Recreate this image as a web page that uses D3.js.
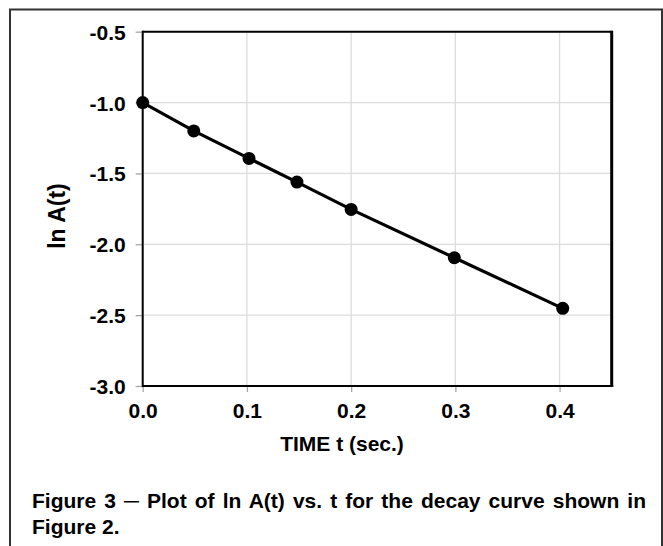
<!DOCTYPE html>
<html><head><meta charset="utf-8">
<script src="https://cdn.jsdelivr.net/npm/d3@7"></script>
<style>
html,body{margin:0;padding:0;background:#fff;}
text{font-family:"Liberation Sans",Arial,sans-serif;font-weight:bold;fill:#000;}
</style></head>
<body>
<svg id="c" width="663" height="546"></svg>
<script>
const times = [0.0, 0.049, 0.102, 0.148, 0.200, 0.299, 0.403];
const lnA = [-1.0, -1.20, -1.394, -1.561, -1.754, -2.095, -2.452];
const xTicks = [0.0, 0.1, 0.2, 0.3, 0.4];
const yTicks = [-0.5, -1.0, -1.5, -2.0, -2.5, -3.0];
const xTitle = "TIME t (sec.)";
const yTitle = "ln A(t)";
const captionLines = ["Figure 3 \u2500 Plot of ln A(t) vs. t for the decay curve shown in", "Figure 2."];

const svg = d3.select("#c");
const L = 142.7, R = 611.7, T = 31.7, B = 386;
const x = d3.scaleLinear().domain([0, 0.45]).range([L, R]);
const y = d3.scaleLinear().domain([-3.0, -0.5]).range([B, T]);
const fmt = d => d.toFixed(1);

// outer frame
svg.append("path").attr("d", "M10,546 V9.5 H662 V546")
  .attr("fill", "none").attr("stroke", "#333").attr("stroke-width", 2);

// grid
svg.append("g").selectAll("line").data(yTicks).join("line")
  .attr("x1", L).attr("x2", R).attr("y1", d => y(d)).attr("y2", d => y(d))
  .attr("stroke", "#dcdcdc").attr("stroke-width", 1.3);
svg.append("g").selectAll("line").data(xTicks).join("line")
  .attr("y1", T).attr("y2", B).attr("x1", d => x(d)).attr("x2", d => x(d))
  .attr("stroke", "#dcdcdc").attr("stroke-width", 1.3);

// axes via d3
const xAxis = svg.append("g").attr("transform", `translate(0,${B})`)
  .call(d3.axisBottom(x).tickValues(xTicks).tickFormat(fmt).tickSize(6).tickPadding(11));
const yAxis = svg.append("g").attr("transform", `translate(${L},0)`)
  .call(d3.axisLeft(y).tickValues(yTicks).tickFormat(fmt).tickSize(7).tickPadding(10));
[xAxis, yAxis].forEach(g => {
  g.select(".domain").remove();
  g.selectAll(".tick line").attr("stroke", "#a6a6a6").attr("stroke-width", 1.3);
  g.selectAll(".tick text").style("font-size", "21px").style("font-family", '"Liberation Sans",Arial,sans-serif').style("font-weight", "bold").attr("fill", "#000");
});
yAxis.selectAll(".tick text").attr("dy", "0.36em");

// plot border
svg.append("line").attr("x1", L).attr("x2", R).attr("y1", T).attr("y2", T).attr("stroke", "#000").attr("stroke-width", 2);
svg.append("line").attr("x1", L).attr("x2", R+1.5).attr("y1", B).attr("y2", B).attr("stroke", "#000").attr("stroke-width", 2);
svg.append("line").attr("x1", L).attr("x2", L).attr("y1", T-1).attr("y2", B+1).attr("stroke", "#000").attr("stroke-width", 2);
svg.append("line").attr("x1", R).attr("x2", R).attr("y1", T-1).attr("y2", B+1).attr("stroke", "#000").attr("stroke-width", 3);

// data
const pts = times.map((t, i) => [t, lnA[i]]);
svg.append("path").datum(pts)
  .attr("d", d3.line().x(d => x(d[0])).y(d => y(d[1])))
  .attr("fill", "none").attr("stroke", "#000").attr("stroke-width", 3.2);
svg.append("g").selectAll("circle").data(pts).join("circle")
  .attr("cx", d => x(d[0])).attr("cy", d => y(d[1])).attr("r", 6.5).attr("fill", "#000");

// titles
svg.append("text").attr("x", 342).attr("y", 451).attr("text-anchor", "middle")
  .style("font-size", "21px").text(xTitle);
svg.append("text").attr("transform", "translate(65,216) rotate(-90)").attr("text-anchor", "middle")
  .style("font-size", "23px").text(yTitle);

// caption (justified first line)
const c1 = svg.append("text").attr("x", 32).attr("y", 508).style("font-size", "21px").text(captionLines[0]);
const natural = c1.node().getComputedTextLength();
const spaces = (captionLines[0].match(/ /g) || []).length;
const ws = (646 - 32 - natural) / spaces;
c1.style("word-spacing", ws + "px");
svg.append("text").attr("x", 32).attr("y", 534).style("font-size", "21px").text(captionLines[1]);
</script>
</body></html>
